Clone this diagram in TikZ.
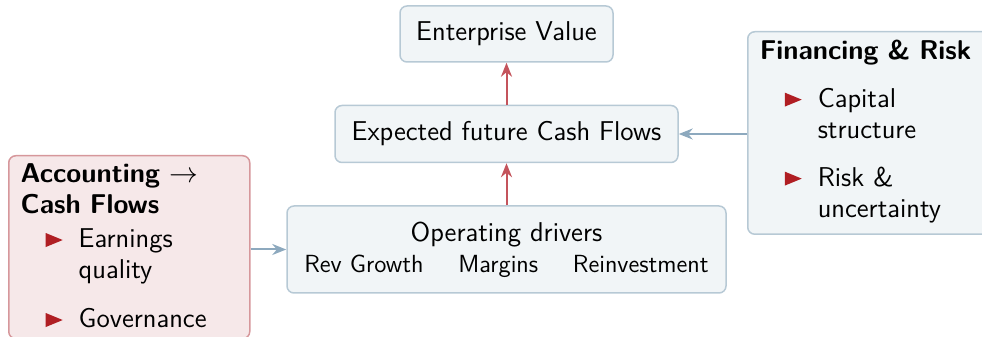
\documentclass[tikz,border=0pt]{standalone}
\usepackage{tikz}
\usetikzlibrary{arrows.meta,positioning}
\definecolor{boxfill}{HTML}{F1F5F7}
\definecolor{boxline}{HTML}{B7C9D5}
\definecolor{accfill}{HTML}{F6E8E9}
\definecolor{accline}{HTML}{D6979B}
\definecolor{flowred}{HTML}{C4545C}
\definecolor{flowblue}{HTML}{8DA9BE}
\definecolor{bulletred}{HTML}{B01E23}
% itemize-like bullets inside the side boxes
\newcommand{\tri}{\tikz[baseline=0pt]\fill[bulletred, sharp corners] (0,0.3pt) -- (8.5pt,3.8pt) -- (0,7.3pt) -- cycle;}
\newcommand{\bitem}{\hspace*{12.5pt}\makebox[16.5pt][l]{\tri}}
\newcommand{\bcont}{\hspace*{29pt}}
\newcommand{\pad}[1]{\rule[-#1]{0pt}{1pt}}
\tikzset{
  box/.style        = {draw=boxline, line width=0.75pt, fill=boxfill, rounded corners=3.5pt, align=center},
  accbox/.style     = {box, draw=accline, fill=accfill, align=left, text width=108.5pt,
                       inner xsep=6pt, inner ysep=4pt, anchor=north west},
  finbox/.style     = {box, align=left, text width=120pt, inner xsep=6pt, inner ysep=4pt, anchor=north west},
  uparrow/.style    = {-{Stealth[length=7pt,width=5.5pt]}, line width=1pt, draw=flowred},
  sidearrow/.style  = {-{Stealth[length=7pt,width=5.5pt]}, line width=1pt, draw=flowblue},
  every node/.style = {font=\fontsize{13.6}{15.5}\selectfont\sffamily},
}
\begin{document}
\begin{tikzpicture}
  \useasboundingbox (0,0) rectangle (491pt,168.5pt);
  \clip (0,0) rectangle (491pt,168.5pt);
  % valuation chain
  \node[box, minimum width=106.5pt, minimum height=28pt] (ev) at (253.25pt,151.5pt) {Enterprise Value};
  \node[box, below=21pt of ev, minimum width=171.5pt, minimum height=28.5pt] (ecf) {Expected future Cash Flows};
  \node[box, below=21pt of ecf, minimum width=219.5pt, minimum height=43.5pt] (ops)
    {Operating drivers\\{\fontsize{12.4}{15.5}\selectfont Rev Growth\hspace{1.4em}Margins\hspace{1.4em}Reinvestment}\pad{1.5pt}};
  \draw[uparrow] (ops) -- (ecf);
  \draw[uparrow] (ecf) -- (ev);
  % side inputs
  \node[accbox] (acct) at (4pt,91pt) {%
    \textbf{Accounting $\rightarrow$}\\
    \textbf{Cash Flows}\\[1.5pt]
    \bitem Earnings\\
    \bcont quality\\[9pt]
    \bitem Governance\pad{1.5pt}};
  \node[finbox] (fin) at (373.5pt,153pt) {%
    \textbf{Financing \& Risk}\\[8.5pt]
    \bitem Capital\\
    \bcont structure\\[8.5pt]
    \bitem Risk \&\\
    \bcont uncertainty\pad{4.5pt}};
  \draw[sidearrow] (acct.east |- ops.west) -- (ops.west);
  \draw[sidearrow] (fin.west |- ecf.east) -- (ecf.east);
\end{tikzpicture}
\end{document}
